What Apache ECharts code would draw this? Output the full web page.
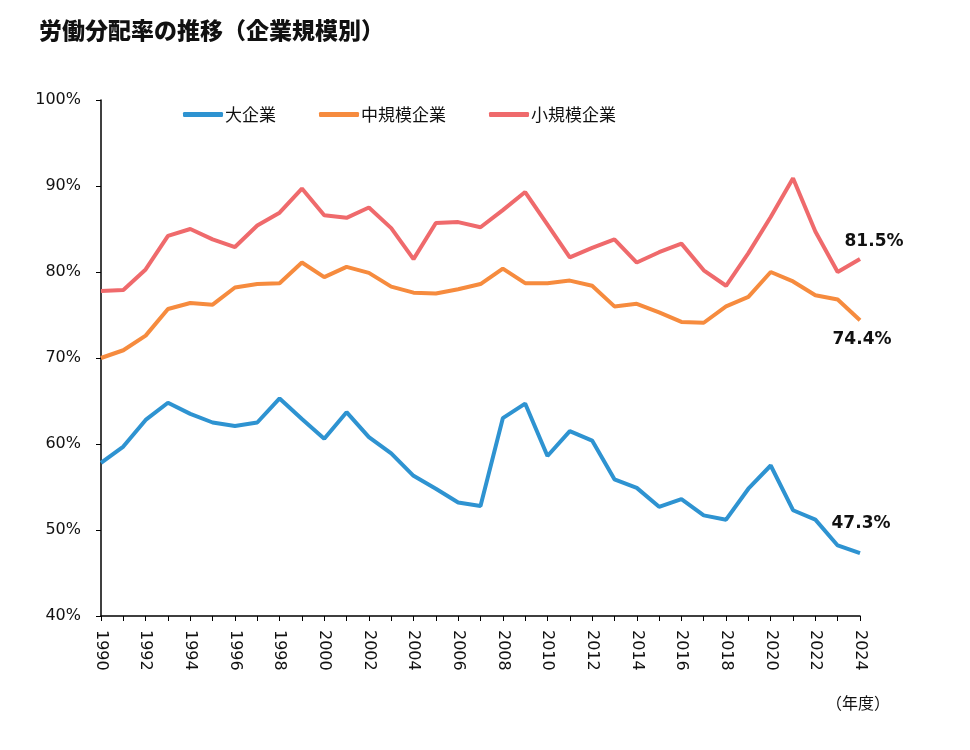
<!DOCTYPE html>
<html>
<head>
<meta charset="utf-8">
<script src="https://cdn.jsdelivr.net/npm/echarts@6/dist/echarts.min.js"></script>
<style>
  html, body { margin: 0; padding: 0; background: #fff; }
  #chart { width: 970px; height: 750px; }
</style>
</head>
<body>
<div id="chart"></div>
<script>
const years = []
for (let y = 1990; y <= 2024; y++) years.push(String(y))

// 大企業
const large = [57.8, 59.7, 62.8, 64.8, 63.5, 62.5, 62.1, 62.5, 65.3, 62.9,
  60.6, 63.7, 60.8, 58.9, 56.3, 54.8, 53.2, 52.8, 63.0, 64.7,
  58.6, 61.5, 60.4, 55.9, 54.9, 52.7, 53.6, 51.7, 51.2, 54.8,
  57.5, 52.3, 51.2, 48.2, 47.3]
// 中規模企業
const medium = [70.0, 70.9, 72.6, 75.7, 76.4, 76.2, 78.2, 78.6, 78.7, 81.1,
  79.4, 80.6, 79.9, 78.3, 77.6, 77.5, 78.0, 78.6, 80.4, 78.7,
  78.7, 79.0, 78.4, 76.0, 76.3, 75.3, 74.2, 74.1, 76.0, 77.1,
  80.0, 78.9, 77.3, 76.8, 74.4]
// 小規模企業
const small = [77.8, 77.9, 80.3, 84.2, 85.0, 83.8, 82.9, 85.4, 86.9, 89.7,
  86.6, 86.3, 87.5, 85.1, 81.5, 85.7, 85.8, 85.2, 87.2, 89.3,
  85.5, 81.7, 82.8, 83.8, 81.1, 82.3, 83.3, 80.2, 78.4, 82.2,
  86.4, 90.9, 84.7, 80.0, 81.5]

const colors = {
  large: '#2E93D1',
  medium: '#F68B3E',
  small: '#EF6A6C',
  text: '#111'
}

const font = '"DejaVu Sans", Verdana, sans-serif'
const jpFont = '"Noto Sans CJK JP", sans-serif'

// only the last point gets a bold value label
const withEndLabel = (arr, pos, offset) => arr.map((v, i) => {
  if (i !== arr.length - 1) return v
  return {
    value: v,
    label: {
      show: true,
      position: pos,
      offset: offset,
      formatter: '{c}%',
      fontFamily: font,
      fontWeight: 'bold',
      fontSize: 17,
      color: colors.text
    }
  }
})

const lineSeries = (name, data, color) => ({
  name: name,
  type: 'line',
  data: data,
  symbol: 'circle',
  symbolSize: 0,
  showSymbol: true,
  color: color,
  lineStyle: { width: 4, color: color }
})

const chart = echarts.init(document.getElementById('chart'))

const option = {
  backgroundColor: '#fff',
  animation: false,
  title: {
    text: '労働分配率の推移（企業規模別）',
    left: 34,
    top: 14,
    textStyle: { fontFamily: jpFont, fontWeight: 900, fontSize: 23, color: colors.text }
  },
  legend: {
    left: 178,
    top: 101,
    itemWidth: 40,
    itemHeight: 5,
    itemGap: 43,
    icon: 'roundRect',
    textStyle: { fontFamily: jpFont, fontSize: 17, color: colors.text, padding: [0, 0, 0, -3] },
    data: ['大企業', '中規模企業', '小規模企業']
  },
  grid: { left: 101, right: 110, top: 100, bottom: 134 },
  xAxis: {
    type: 'category',
    data: years,
    boundaryGap: false,
    axisLine: { lineStyle: { color: '#000', width: 1.5 } },
    axisTick: { interval: 0, length: 5, lineStyle: { color: '#000' } },
    axisLabel: {
      interval: 1,
      rotate: -90,
      margin: 14,
      fontFamily: font,
      fontSize: 16,
      color: colors.text
    }
  },
  yAxis: {
    type: 'value',
    min: 40,
    max: 100,
    interval: 10,
    axisLine: { show: true, lineStyle: { color: '#000', width: 1.5 } },
    axisTick: { show: true, length: 5, lineStyle: { color: '#000' } },
    splitLine: { show: false },
    axisLabel: {
      formatter: '{value}%',
      margin: 20,
      fontFamily: font,
      fontSize: 16,
      color: colors.text
    }
  },
  graphic: [{
    type: 'text',
    right: 80,
    top: 695,
    style: { text: '（年度）', font: '16px "Noto Sans CJK JP"', fill: colors.text }
  }],
  series: [
    lineSeries('大企業', withEndLabel(large, 'top', [1, -16]), colors.large),
    lineSeries('中規模企業', withEndLabel(medium, 'bottom', [2, 6]), colors.medium),
    lineSeries('小規模企業', withEndLabel(small, 'top', [14, -4]), colors.small)
  ]
}

chart.setOption(option)
</script>
</body>
</html>
